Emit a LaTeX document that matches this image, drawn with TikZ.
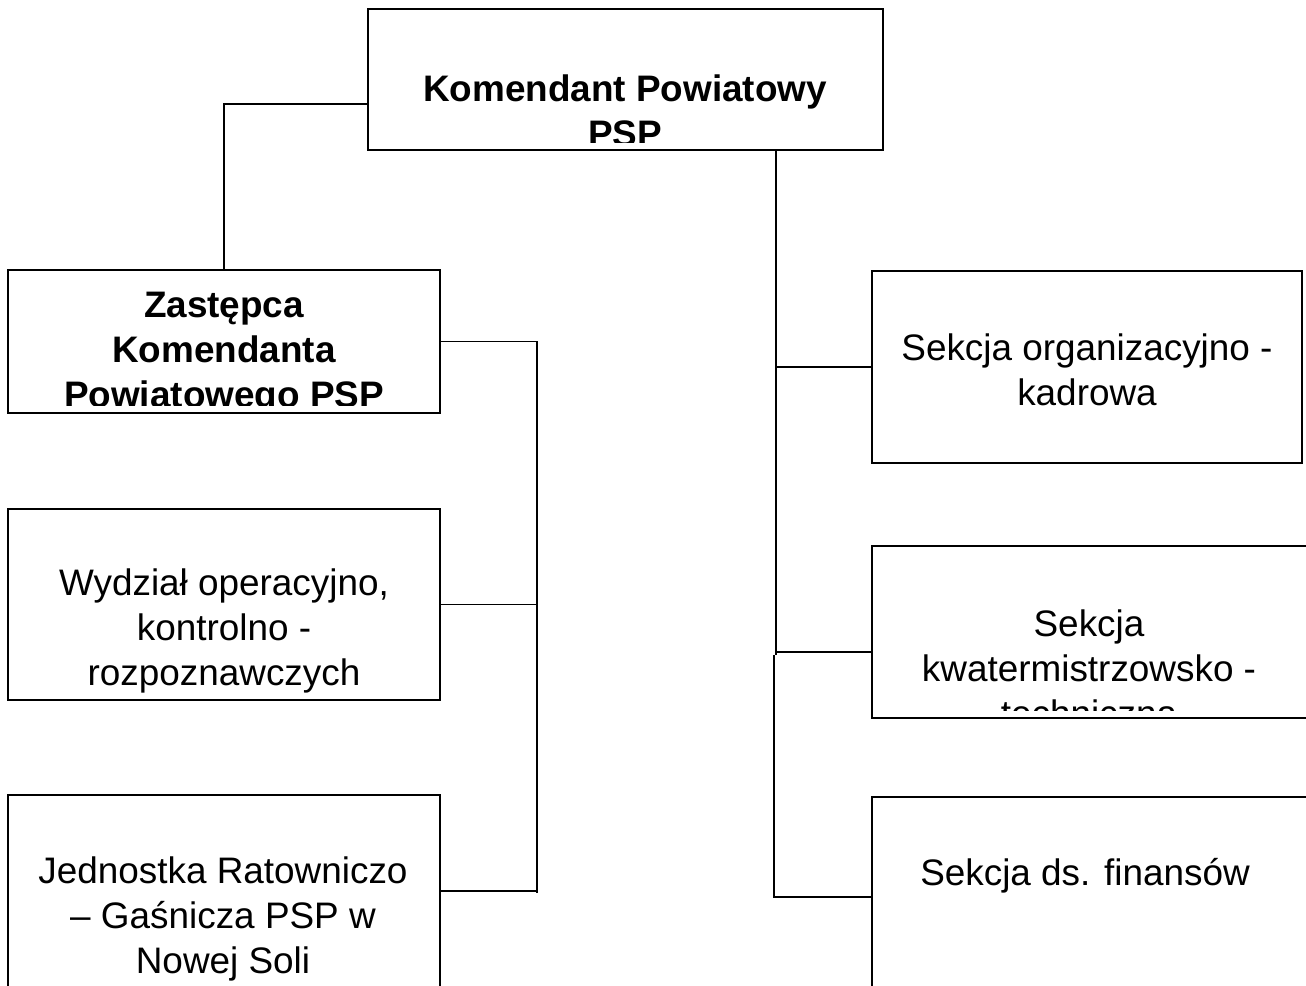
\documentclass[tikz,border=0pt]{standalone}
\usepackage{fontspec}
\setmainfont{Liberation Sans}
\usetikzlibrary{fit}

\begin{document}
\begin{tikzpicture}[x=0.02cm, y=-0.02cm, line width=1.1pt,
    box/.style={draw, inner sep=0pt},
    txt/.style={align=center, inner sep=0pt, font=\fontsize{21}{25.5}\selectfont},
    txtb/.style={txt, font=\fontsize{21}{25.5}\selectfont\bfseries}]
    \clip (0,0) rectangle (1306,985);

    % boxes
    \node[box, fit={(368,9) (883,150)}] (kp) {};
    \node[box, fit={(8,270) (440,413)}] (zast) {};
    \node[box, fit={(8,509) (440,700)}] (wydz) {};
    \node[box, fit={(8,795) (440,987)}] (jedn) {};
    \node[box, fit={(872,271) (1302,463)}] (sorg) {};
    \node[box, fit={(872,546) (1320,718)}] (skwat) {};
    \node[box, fit={(872,797) (1320,990)}] (sfin) {};

    % texts (cut off at the lower edge as in the original)
    \begin{scope}
        \clip (375,16) rectangle (876,142);
        \node[txtb] (kpt) at (625,111) {Komendant Powiatowy\\PSP};
    \end{scope}
    \begin{scope}
        \clip (15,277) rectangle (433,405);
        \node[txtb] (zastt) at (224,354) {Zastępca\\Komendanta\\Powiatowego PSP};
    \end{scope}
    \node[txt] (wydzt) at (224,631) {Wydział operacyjno,\\kontrolno -\\rozpoznawczych};
    \node[txt] (jednt) at (223,919) {Jednostka Ratowniczo\\– Gaśnicza PSP w\\Nowej Soli};
    \node[txt] (sorgt) at (1087,370) {Sekcja organizacyjno -\\kadrowa};
    \begin{scope}
        \clip (879,553) rectangle (1306,710);
        \node[txt] (skwatt) at (1089,668) {Sekcja\\kwatermistrzowsko -\\techniczna};
    \end{scope}
    \node[txt] (sfint) at (1085,876) {Sekcja ds. finansów};

    % left branch
    \coordinate (kink) at (224,104);
    \coordinate (lbend) at (537,893);
    \draw (kp.west |- kink) -- (kink) -- (zast.north);
    \draw (zast.east) -| (lbend);
    \draw (wydz.east) -- (wydz.east -| lbend);
    \draw (jedn.east) -- (jedn.east -| lbend);

    % right branch
    \coordinate (rb1) at (776,655);
    \coordinate (kwat) at (776,652);
    \coordinate (rb2) at (774,655);
    \coordinate (rb3) at (774,897);
    \draw (kp.south -| rb1) -- (rb1);
    \draw (sorg.west -| rb1) -- (sorg.west);
    \draw (kwat) -- (kwat -| skwat.west);
    \draw (rb2) -- (rb3) -- (rb3 -| sfin.west);
\end{tikzpicture}
\end{document}
